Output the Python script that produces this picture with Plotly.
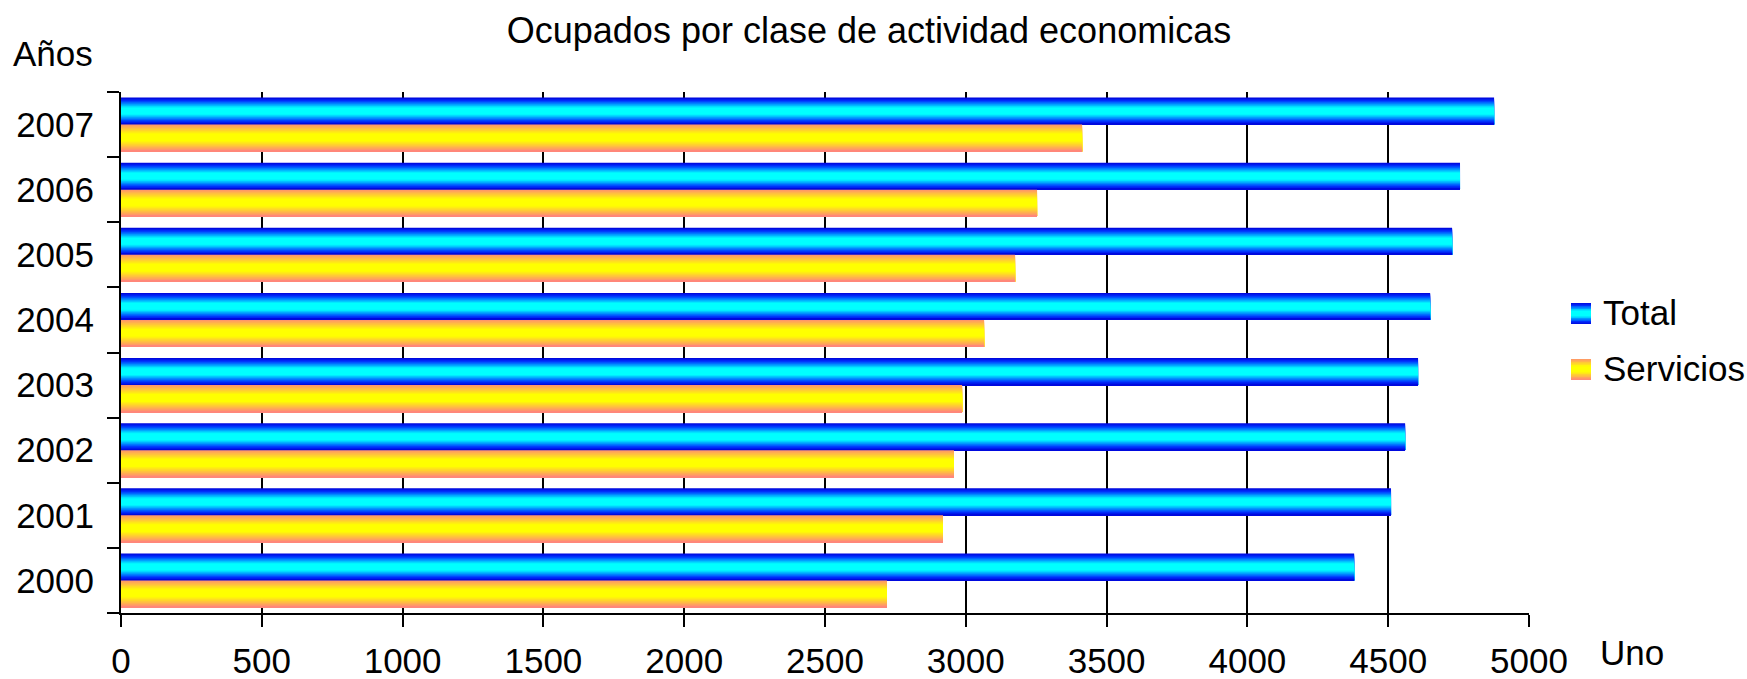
import plotly.graph_objects as go

# ---------------- data ----------------
years = ["2000", "2001", "2002", "2003", "2004", "2005", "2006", "2007"]
total = [4379, 4510, 4560, 4606, 4649, 4727, 4755, 4876]
servicios = [2720, 2919, 2958, 2987, 3065, 3175, 3253, 3413]
series_names = ["Total", "Servicios"]
x_ticks = [0, 500, 1000, 1500, 2000, 2500, 3000, 3500, 4000, 4500, 5000]

title_text = "Ocupados por clase de actividad economicas"
y_title = "Años"
x_title = "Uno"

# ---------------- styles ----------------
W, H = 1747, 679
L, R, T, B = 121, 1529, 92, 613  # plot area in px
FONT = "Liberation Sans, Arial, sans-serif"
FS = 35

total_stops = [(0.0, (0, 0, 215)), (0.12, (0, 50, 255)), (0.38, (0, 255, 255)),
               (0.62, (0, 255, 255)), (0.88, (0, 50, 255)), (1.0, (0, 0, 215))]
serv_stops = [(0.0, (255, 145, 110)), (0.35, (255, 255, 0)), (0.6, (255, 255, 0)),
              (1.0, (255, 128, 128))]


def grad(stops, t):
    for (t0, c0), (t1, c1) in zip(stops[:-1], stops[1:]):
        if t0 <= t <= t1:
            f = 0 if t1 == t0 else (t - t0) / (t1 - t0)
            c = [round(a + (b - a) * f) for a, b in zip(c0, c1)]
            return "rgb(%d,%d,%d)" % tuple(c)
    return "rgb(%d,%d,%d)" % stops[-1][1]


def px2x(px):
    return (px - L) / (R - L)


def py2y(py):
    return (B - py) / (B - T)


N = 24
BAR_H = 0.415
fig = go.Figure()

# Total bars (upper half of each category), drawn as cumulative stripes for a gradient
for i in range(N):
    t = (i + 0.5) / N
    fig.add_trace(go.Bar(
        x=total, y=years, orientation="h", name=series_names[0],
        offset=0, width=BAR_H - i * BAR_H / N,
        marker=dict(color=grad(total_stops, t), line=dict(width=0)),
        showlegend=False, hoverinfo="x+y"))

# Servicios bars (lower half)
for i in range(N):
    t = (i + 0.5) / N
    fig.add_trace(go.Bar(
        x=servicios, y=years, orientation="h", name=series_names[1],
        offset=-BAR_H, width=BAR_H - i * BAR_H / N,
        marker=dict(color=grad(serv_stops, t), line=dict(width=0)),
        showlegend=False, hoverinfo="x+y"))

shapes = []
annotations = []

# custom legend with gradient swatches
legend_items = [(series_names[0], total_stops, 303, 324),
                (series_names[1], serv_stops, 359, 380)]
M = 14
for name, stops, y0, y1 in legend_items:
    h = (y1 - y0) / M
    for i in range(M):
        t = (i + 0.5) / M
        shapes.append(dict(type="rect", xref="paper", yref="paper",
                           x0=px2x(1571), x1=px2x(1591),
                           y0=py2y(y1), y1=py2y(y0 + i * h),
                           fillcolor=grad(stops, t), line=dict(width=0),
                           layer="above"))
    annotations.append(dict(text=name, xref="paper", yref="paper",
                            x=px2x(1601), y=py2y((y0 + y1) / 2 - 1),
                            xanchor="left", yanchor="middle", showarrow=False,
                            font=dict(family=FONT, size=FS, color="black")))

annotations.append(dict(text=y_title, xref="paper", yref="paper",
                        x=px2x(53), y=py2y(54), xanchor="center", yanchor="middle",
                        showarrow=False, font=dict(family=FONT, size=FS, color="black")))
annotations.append(dict(text=x_title, xref="paper", yref="paper",
                        x=px2x(1632), y=py2y(652), xanchor="center", yanchor="middle",
                        showarrow=False, font=dict(family=FONT, size=FS, color="black")))

fig.update_layout(
    width=W, height=H,
    margin=dict(l=L, r=W - R, t=T, b=H - B, pad=0, autoexpand=False),
    paper_bgcolor="white", plot_bgcolor="white",
    barmode="overlay",
    showlegend=False,
    title=dict(text=title_text, x=869 / W, xanchor="center", y=1 - 30 / H,
               yanchor="middle", font=dict(family=FONT, size=36, color="black")),
    font=dict(family=FONT, size=FS, color="black"),
    shapes=shapes,
    annotations=annotations,
    xaxis=dict(range=[0, 5000], tickvals=x_ticks, ticktext=[str(v) for v in x_ticks],
               automargin=False,
               showgrid=True, gridcolor="black", gridwidth=2, zeroline=False,
               showline=True, linecolor="black", linewidth=2,
               ticks="outside", ticklen=12, tickwidth=2, tickcolor="black",
               ticklabelstandoff=4, tickfont=dict(family=FONT, size=FS, color="black")),
    yaxis=dict(type="category", categoryorder="array", categoryarray=years,
               automargin=False,
               showgrid=False, zeroline=False,
               showline=True, linecolor="black", linewidth=2,
               ticks="outside", tickson="boundaries", ticklen=12, tickwidth=2,
               tickcolor="black", ticklabelstandoff=18,
               tickfont=dict(family=FONT, size=FS, color="black")),
)

fig.write_html("out.html", config={"displayModeBar": False},
               post_script="document.body.style.margin='0';")
